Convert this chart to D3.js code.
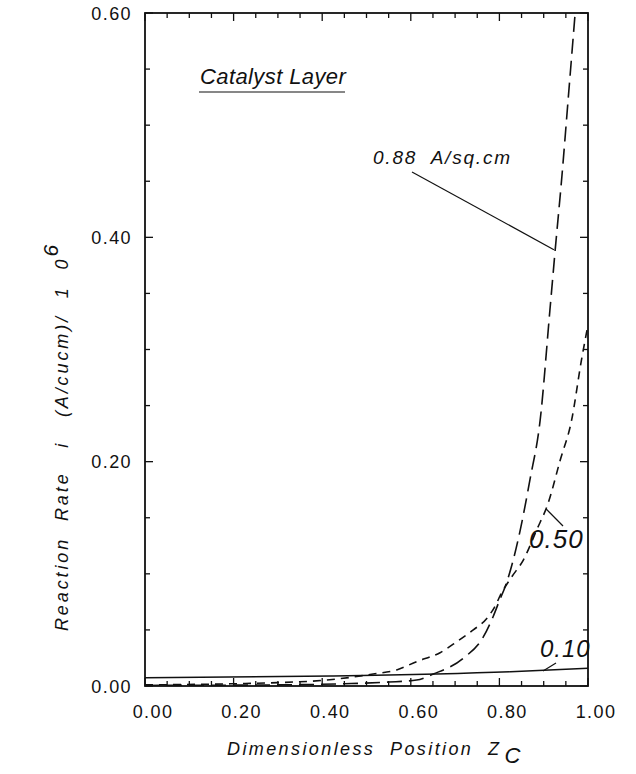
<!DOCTYPE html>
<html><head><meta charset="utf-8">
<script src="https://cdn.jsdelivr.net/npm/d3@7"></script>
<style>
  body { margin: 0; background: #fff; }
  text { font-family: "Liberation Sans", "DejaVu Sans", sans-serif; fill: #111; white-space: pre; }
</style>
</head><body>
<svg id="chart" width="636" height="774"></svg>
<script>
// Tick values and labels
const xTickValues = [0, 0.2, 0.4, 0.6, 0.8, 1.0];
const xTickLabels = ["0.00", "0.20", "0.40", "0.60", "0.80", "1.00"];
const yTickValues = [0, 0.2, 0.4, 0.6];
const yTickLabels = ["0.00", "0.20", "0.40", "0.60"];

// Reaction rate profiles across the catalyst layer (A/cucm / 1e6)
// Current density 0.10 A/sq.cm (solid)
const pos010  = [0, 0.42, 0.825, 1.0];
const rate010 = [0.0074, 0.0089, 0.0127, 0.0158];

// Current density 0.50 A/sq.cm (short dash)
const pos050  = [0, 0.2, 0.3, 0.4, 0.46, 0.515, 0.568, 0.613, 0.666, 0.704, 0.741, 0.771, 0.794, 0.801, 0.828, 0.854, 0.884, 0.910, 0.937, 0.963, 0.985, 1.0];
const rate050 = [0.001, 0.002, 0.003, 0.005, 0.0075, 0.0107, 0.0143, 0.0217, 0.0297, 0.0395, 0.050, 0.060, 0.074, 0.080, 0.0974, 0.1123, 0.139, 0.163, 0.201, 0.237, 0.290, 0.322];

// Current density 0.88 A/sq.cm (long dash)
const pos088  = [0, 0.3, 0.45, 0.55, 0.613, 0.651, 0.7185, 0.764, 0.786, 0.801, 0.813, 0.831, 0.847, 0.869, 0.892, 0.914, 0.926, 0.941, 0.955, 0.971];
const rate088 = [0.0005, 0.001, 0.002, 0.0035, 0.0053, 0.0107, 0.0247, 0.044, 0.062, 0.077, 0.0885, 0.112, 0.139, 0.184, 0.237, 0.335, 0.389, 0.454, 0.522, 0.60];

const svg = d3.select("#chart");
const plotLeft = 145, plotRight = 588, plotTop = 13, plotBottom = 686;

const x = d3.scaleLinear().domain([0, 1]).range([plotLeft, plotRight]);
const y = d3.scaleLinear().domain([0, 0.6]).range([plotBottom, plotTop]);

// clip curves to the plotting frame
svg.append("defs").append("clipPath").attr("id", "plotClip")
  .append("rect").attr("x", plotLeft).attr("y", plotTop)
  .attr("width", plotRight - plotLeft).attr("height", plotBottom - plotTop);

// ticks every 0.05 (longer at every 0.2), pointing inward on all four sides
const minorX = d3.range(0, 1.0001, 0.05);
const minorY = d3.range(0, 0.6001, 0.05);
const isMajor = v => Math.abs(v / 0.2 - Math.round(v / 0.2)) < 1e-6;

const tickG = svg.append("g").attr("stroke", "#111").attr("stroke-width", 1.3);
minorX.forEach(v => {
  const len = isMajor(v) ? 8 : 5;
  tickG.append("line").attr("x1", x(v)).attr("x2", x(v)).attr("y1", plotBottom).attr("y2", plotBottom - len);
  tickG.append("line").attr("x1", x(v)).attr("x2", x(v)).attr("y1", plotTop).attr("y2", plotTop + len);
});
minorY.forEach(v => {
  const len = isMajor(v) ? 8 : 5;
  tickG.append("line").attr("y1", y(v)).attr("y2", y(v)).attr("x1", plotLeft).attr("x2", plotLeft + len);
  tickG.append("line").attr("y1", y(v)).attr("y2", y(v)).attr("x1", plotRight).attr("x2", plotRight - len);
});

// frame
svg.append("rect").attr("x", plotLeft).attr("y", plotTop)
  .attr("width", plotRight - plotLeft).attr("height", plotBottom - plotTop)
  .attr("fill", "none").attr("stroke", "#111").attr("stroke-width", 1.8);

// tick labels
svg.append("g").selectAll("text").data(xTickValues).join("text")
  .attr("x", d => x(d) + 8).attr("y", 718)
  .attr("text-anchor", "middle").attr("font-size", 18).attr("letter-spacing", 1.4)
  .text((d, i) => xTickLabels[i]);

svg.append("g").selectAll("text").data(yTickValues).join("text")
  .attr("x", 132).attr("y", d => y(d) + 6.5)
  .attr("text-anchor", "end").attr("font-size", 18).attr("letter-spacing", 1.4)
  .text((d, i) => yTickLabels[i]);

// curves
const line = d3.line().x(d => x(d[0])).y(d => y(d[1])).curve(d3.curveMonotoneX);
const curves = svg.append("g").attr("clip-path", "url(#plotClip)").attr("fill", "none").attr("stroke", "#111");
curves.append("path").datum(d3.zip(pos010, rate010)).attr("d", line).attr("stroke-width", 1.4);
curves.append("path").datum(d3.zip(pos050, rate050)).attr("d", line).attr("stroke-width", 1.6)
  .attr("stroke-dasharray", "8,6");
curves.append("path").datum(d3.zip(pos088, rate088)).attr("d", line).attr("stroke-width", 1.6)
  .attr("stroke-dasharray", "15,7");

// curve labels with leader lines
const lab = svg.append("g");
lab.append("text").attr("x", 373).attr("y", 164).attr("font-size", 19).attr("font-style", "italic")
  .attr("letter-spacing", 1.8).text("0.88  A/sq.cm");
lab.append("line").attr("x1", 412).attr("y1", 172).attr("x2", x(0.923)).attr("y2", y(0.389))
  .attr("stroke", "#111").attr("stroke-width", 1.2);

lab.append("text").attr("x", 529).attr("y", 548).attr("font-size", 26).attr("font-style", "italic")
  .attr("letter-spacing", 1).text("0.50");
lab.append("line").attr("x1", x(0.905)).attr("y1", y(0.158)).attr("x2", 563).attr("y2", 526)
  .attr("stroke", "#111").attr("stroke-width", 1.2);

lab.append("text").attr("x", 540).attr("y", 657).attr("font-size", 24).attr("font-style", "italic")
  .attr("letter-spacing", 1).text("0.10");
lab.append("line").attr("x1", 543).attr("y1", 671).attr("x2", 556).attr("y2", 663)
  .attr("stroke", "#111").attr("stroke-width", 1.2);

// panel title
svg.append("text").attr("x", 200).attr("y", 84).attr("font-size", 22).attr("font-style", "italic")
  .attr("letter-spacing", 0.4).text("Catalyst Layer");
svg.append("line").attr("x1", 199).attr("x2", 345).attr("y1", 92).attr("y2", 92)
  .attr("stroke", "#111").attr("stroke-width", 1.2);

// axis titles
const xt = svg.append("text").attr("x", 227).attr("y", 755).attr("font-size", 18)
  .attr("font-style", "italic").attr("letter-spacing", 2.4);
xt.append("tspan").text("Dimensionless  Position  Z");
xt.append("tspan").attr("dx", 3).attr("dy", 8).attr("font-size", 22).attr("letter-spacing", 0).text("C");

const yt = svg.append("text").attr("transform", "translate(68,438) rotate(-90)")
  .attr("text-anchor", "middle").attr("font-size", 18).attr("font-style", "italic")
  .attr("letter-spacing", 2.9);
yt.append("tspan").text("Reaction  Rate   i   (A/cucm)/  1  0");
yt.append("tspan").attr("dy", -10).attr("font-size", 21).attr("letter-spacing", 0).text("6");
</script>
</body></html>
